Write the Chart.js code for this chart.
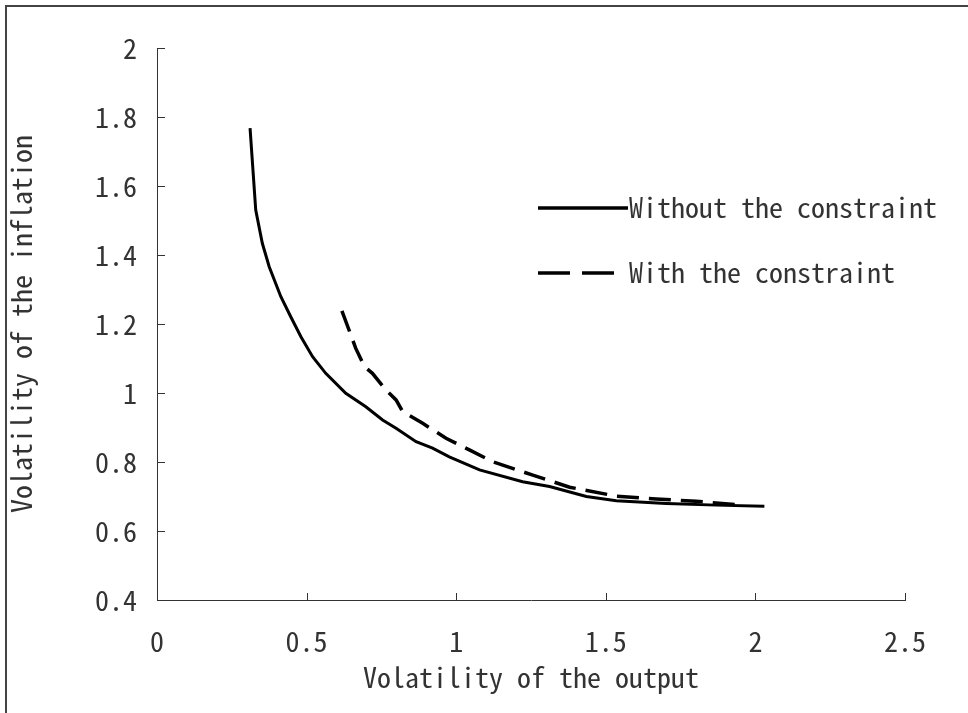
<!DOCTYPE html>
<html>
<head>
<meta charset="utf-8">
<script src="https://cdn.jsdelivr.net/npm/chart.js@4/dist/chart.umd.min.js"></script>
<style>
  html, body { margin: 0; padding: 0; background: #fff; }
  #wrap { width: 968px; height: 713px; }
</style>
</head>
<body>
<div id="wrap"><canvas id="frontier"></canvas></div>
<script>
// curve without the constraint (output volatility, inflation volatility)
const outputFree = [0.311, 0.33, 0.352, 0.375, 0.414, 0.447, 0.481, 0.52, 0.564, 0.631, 0.698, 0.754, 0.799, 0.866, 0.921, 0.977, 1.078, 1.222, 1.312, 1.435, 1.535, 1.702, 1.869, 2.03];
const inflationFree = [1.768, 1.53, 1.434, 1.366, 1.279, 1.221, 1.163, 1.105, 1.057, 0.999, 0.96, 0.922, 0.898, 0.859, 0.84, 0.815, 0.777, 0.743, 0.729, 0.7, 0.688, 0.68, 0.675, 0.672];

// curve with the constraint
const outputCon = [0.618, 0.648, 0.664, 0.693, 0.72, 0.765, 0.799, 0.821, 0.888, 0.966, 1.044, 1.122, 1.256, 1.379, 1.535, 1.668, 1.802, 1.96];
const inflationCon = [1.238, 1.168, 1.13, 1.077, 1.057, 1.009, 0.98, 0.946, 0.912, 0.869, 0.835, 0.801, 0.762, 0.727, 0.701, 0.693, 0.686, 0.675];

const seriesNames = ['Without the constraint', 'With the constraint'];
const xTicks = [0, 0.5, 1, 1.5, 2, 2.5];
const yTicks = [0.4, 0.6, 0.8, 1, 1.2, 1.4, 1.6, 1.8, 2];

// the original uses a narrow CJK mono face; use one if it is there
let FONT = '"Liberation Mono", "DejaVu Sans Mono", monospace';
let FSIZE = 23;
(function pickFont() {
  const c = document.createElement('canvas').getContext('2d');
  c.font = '28px "Noto Sans Mono CJK SC", "Noto Sans Mono CJK JP"';
  const w = c.measureText('Without the constraint').width;
  if (Math.abs(w - 308) < 6) {
    FONT = '"Noto Sans Mono CJK SC", "Noto Sans Mono CJK JP", monospace';
    FSIZE = 28;
  }
})();
const INK = '#000';
const TEXT = '#333';

function toPoints(xs, ys) {
  return xs.map((x, i) => ({ x: x, y: ys[i] }));
}

// short ticks pointing into the plot, plus the outer frame and the legend
const extras = {
  id: 'extras',
  afterDraw(chart) {
    const ctx = chart.ctx;
    const xs = chart.scales.x, ys = chart.scales.y;
    ctx.save();
    ctx.strokeStyle = '#333';
    ctx.lineWidth = 1;
    xTicks.forEach(v => {
      const px = Math.round(xs.getPixelForValue(v)) + 0.5;
      ctx.beginPath();
      ctx.moveTo(px, ys.bottom);
      ctx.lineTo(px, ys.bottom - 7);
      ctx.stroke();
    });
    yTicks.forEach(v => {
      const py = Math.round(ys.getPixelForValue(v)) + 0.5;
      ctx.beginPath();
      ctx.moveTo(xs.left, py);
      ctx.lineTo(xs.left + 8, py);
      ctx.stroke();
    });

    // frame (top and left edges only are visible)
    ctx.strokeStyle = '#444';
    ctx.lineWidth = 2;
    ctx.beginPath();
    ctx.moveTo(6, 713);
    ctx.lineTo(6, 6);
    ctx.lineTo(968, 6);
    ctx.stroke();

    // legend inside the plot
    const lx = 538, ly = [208, 273];
    ctx.strokeStyle = INK;
    ctx.lineWidth = 3.5;
    ctx.beginPath();
    ctx.moveTo(lx, ly[0]);
    ctx.lineTo(lx + 90, ly[0]);
    ctx.stroke();
    ctx.setLineDash([32, 12]);
    ctx.beginPath();
    ctx.moveTo(lx, ly[1]);
    ctx.lineTo(lx + 76, ly[1]);
    ctx.stroke();
    ctx.setLineDash([]);
    ctx.fillStyle = TEXT;
    ctx.font = FSIZE + 'px ' + FONT;
    ctx.textBaseline = 'middle';
    ctx.fillText(seriesNames[0], 629, ly[0] - 1);
    ctx.fillText(seriesNames[1], 629, ly[1] - 1);
    ctx.restore();
  }
};

new Chart(document.getElementById('frontier'), {
  type: 'scatter',
  data: {
    datasets: [
      {
        label: seriesNames[0],
        data: toPoints(outputFree, inflationFree),
        showLine: true,
        borderColor: INK,
        borderWidth: 3,
        pointRadius: 0,
        tension: 0
      },
      {
        label: seriesNames[1],
        data: toPoints(outputCon, inflationCon),
        showLine: true,
        borderColor: INK,
        borderWidth: 3.5,
        borderDash: [22, 10],
        pointRadius: 0,
        tension: 0
      }
    ]
  },
  options: {
    responsive: true,
    maintainAspectRatio: false,
    animation: false,
    layout: { padding: { left: 5, top: 48, right: 63, bottom: 0 } },
    plugins: {
      legend: { display: false },
      tooltip: { enabled: false }
    },
    scales: {
      x: {
        type: 'linear',
        min: 0,
        max: 2.5,
        afterBuildTicks: s => { s.ticks = xTicks.map(v => ({ value: v })); },
        afterFit: s => { s.height = 113; },
        grid: { display: false, drawTicks: false },
        border: { display: true, color: '#333', width: 1 },
        ticks: {
          color: TEXT,
          padding: 25,
          font: { family: FONT, size: FSIZE },
          maxRotation: 0,
          callback: v => String(v)
        },
        title: {
          display: true,
          text: 'Volatility of the output',
          color: TEXT,
          font: { family: FONT, size: FSIZE },
          padding: { top: 0, bottom: 19 }
        }
      },
      y: {
        type: 'linear',
        min: 0.4,
        max: 2,
        afterBuildTicks: s => { s.ticks = yTicks.map(v => ({ value: v })); },
        afterFit: s => { s.width = 152; },
        grid: { display: false, drawTicks: false },
        border: { display: true, color: '#333', width: 1 },
        ticks: {
          color: TEXT,
          padding: 20,
          font: { family: FONT, size: FSIZE },
          callback: v => String(v)
        },
        title: {
          display: true,
          text: 'Volatility of the inflation',
          color: TEXT,
          font: { family: FONT, size: FSIZE },
          padding: { top: 0, bottom: 0 }
        }
      }
    }
  },
  plugins: [extras]
});
</script>
</body>
</html>
